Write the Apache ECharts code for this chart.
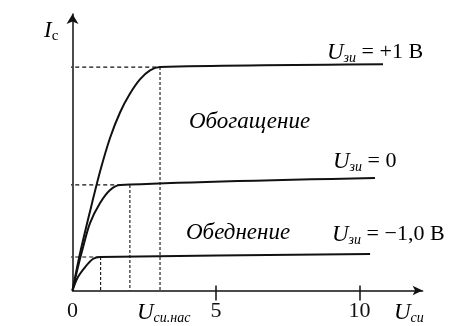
<!DOCTYPE html>
<html lang="ru">
<head>
    <meta charset="utf-8">
    <script src="https://cdn.jsdelivr.net/npm/echarts@6/dist/echarts.min.js"></script>
</head>
<body style="margin:0;background:#fff">
<div id="main" style="width:456px;height:326px"></div>
<script type="text/javascript">
    // кривые Ic(Uси), точки
    var curvePlus1 = [[0, 0], [0.26, 1.10], [0.61, 2.36], [0.96, 3.55], [1.31, 4.56], [1.66, 5.32],
        [2.00, 5.87], [2.35, 6.30], [2.70, 6.57], [3.05, 6.67], [10.82, 6.75]];
    var curveZero = [[0, 0], [0.19, 0.70], [0.37, 1.30], [0.61, 2.01], [0.96, 2.61], [1.31, 3.00],
        [1.66, 3.15], [10.54, 3.36]];
    var curveMinus1 = [[0, 0], [0.19, 0.40], [0.44, 0.70], [0.71, 0.94], [0.96, 1.00], [10.37, 1.09]];

    // пунктир: уровни насыщения и напряжения насыщения
    var satLevels = [6.67, 3.15, 1.00];
    var kneeX = [3.05, 1.66, 0.96];
    var satVoltages = [3.05, 2.00, 0.98];
    var dashStartX = -2.1;

    var xTickLabels = [0, 5, 10];
    var xTicks = [5, 10];

    var serif = "'Liberation Serif', 'DejaVu Serif', serif";
    var ink = '#111';

    var rich = {
        u: {fontFamily: serif, fontStyle: 'italic', fontSize: 23, color: ink, lineHeight: 26},
        it: {fontFamily: serif, fontStyle: 'italic', fontSize: 23, color: ink, lineHeight: 26},
        sub: {fontFamily: serif, fontStyle: 'italic', fontSize: 14, color: ink, lineHeight: 13, verticalAlign: 'bottom'},
        subr: {fontFamily: serif, fontSize: 15, color: ink, lineHeight: 14, verticalAlign: 'bottom'},
        t: {fontFamily: serif, fontSize: 22, color: ink, lineHeight: 26}
    };

    function txt(x, y, s) {
        return {type: 'text', left: x, top: y, style: {text: s, rich: rich}};
    }

    var series = [];
    [curvePlus1, curveZero, curveMinus1].forEach(function (d) {
        series.push({
            type: 'line', data: d, symbol: 'none', smooth: 0.3,
            lineStyle: {color: ink, width: 2}, z: 3
        });
    });
    satLevels.forEach(function (lvl, i) {
        series.push({
            type: 'line', data: [[dashStartX, lvl], [kneeX[i], lvl]], symbol: 'none', clip: false,
            lineStyle: {color: ink, width: 1.2, type: [4, 3]}
        });
        series.push({
            type: 'line', data: [[satVoltages[i], lvl], [satVoltages[i], 0]], symbol: 'none',
            lineStyle: {color: ink, width: 1.1, type: [3, 2]}
        });
    });

    var myChart = echarts.init(document.getElementById('main'));
    var option = {
        animation: false,
        grid: {left: 72.5, right: 33.4, top: 14.1, bottom: 35.5},
        xAxis: [{
            type: 'value', min: 0, max: 12.2,
            axisLine: {symbol: ['none', 'arrow'], symbolSize: [7, 10], lineStyle: {color: ink, width: 1.5}},
            axisTick: {customValues: xTicks, length: 10, lineStyle: {color: ink, width: 1.5}},
            axisLabel: {customValues: xTickLabels, margin: 10, fontFamily: serif, fontSize: 22, color: ink},
            splitLine: {show: false}
        }, {
            type: 'value', min: 0, max: 12.2, position: 'bottom',
            axisLine: {show: false},
            axisTick: {customValues: xTicks, inside: true, length: 5, lineStyle: {color: ink, width: 1.5}},
            axisLabel: {show: false},
            splitLine: {show: false}
        }],
        yAxis: {
            type: 'value', min: 0, max: 8.25,
            axisLine: {symbol: ['none', 'arrow'], symbolSize: [9, 10], lineStyle: {color: ink, width: 1.5}},
            axisTick: {show: false},
            axisLabel: {show: false},
            splitLine: {show: false}
        },
        graphic: [
            txt(44, 19, '{u|I}{subr|c}'),
            txt(327, 41, '{u|U}{sub|зи}{t| = +1 В}'),
            txt(189, 110, '{it|Обогащение}'),
            txt(333, 150, '{u|U}{sub|зи}{t| = 0}'),
            txt(186, 221, '{it|Обеднение}'),
            txt(332, 223, '{u|U}{sub|зи}{t| = −1,0 В}'),
            txt(137, 301, '{u|U}{sub|си.нас}'),
            txt(394, 301, '{u|U}{sub|си}')
        ],
        series: series
    };
    myChart.setOption(option);
</script>
</body>
</html>
